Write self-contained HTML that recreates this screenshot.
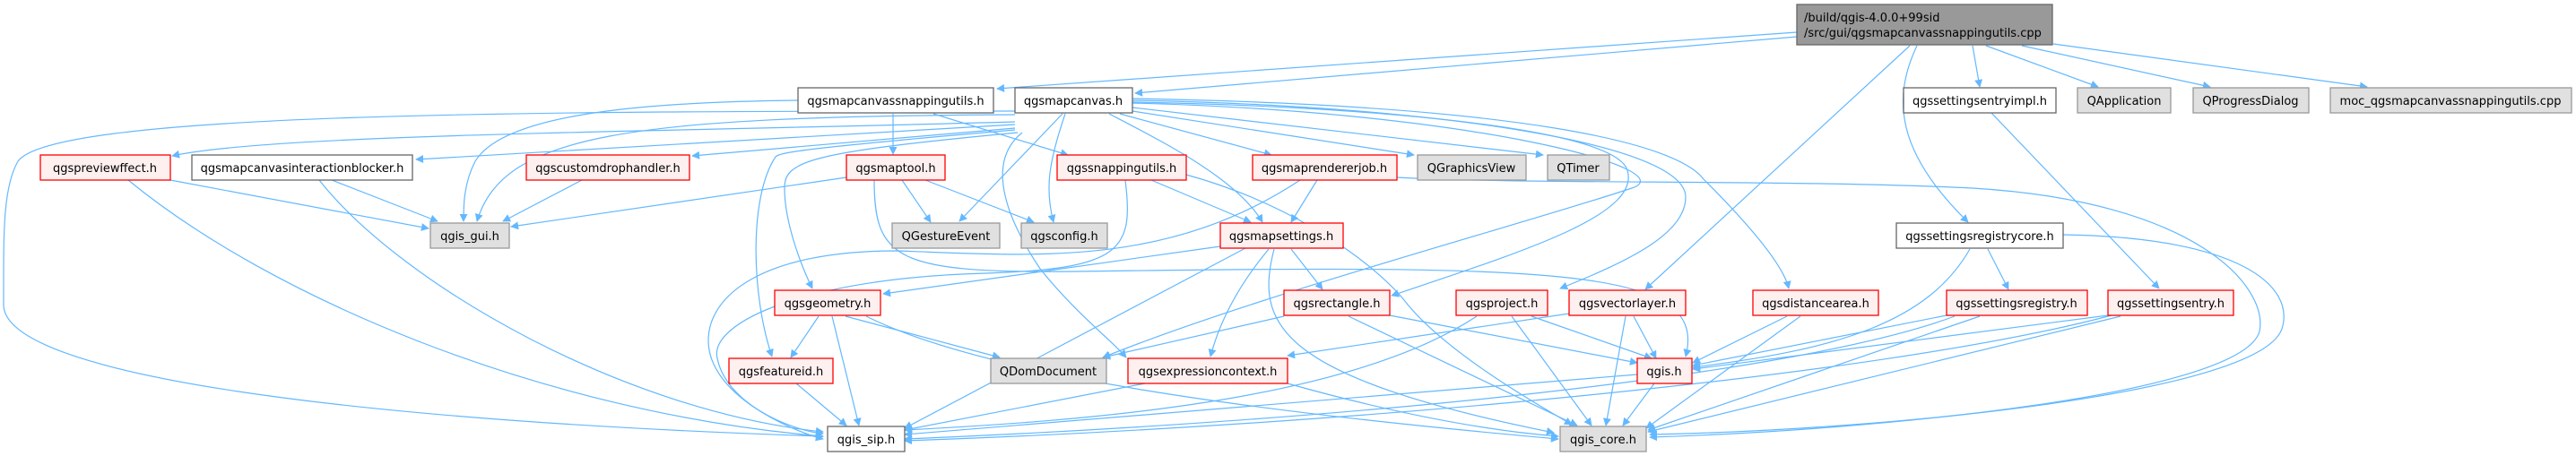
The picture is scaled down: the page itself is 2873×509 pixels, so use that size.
<!DOCTYPE html>
<html><head><meta charset="utf-8"><style>
html,body{margin:0;padding:0;background:#fff;}
svg{display:block;}
text{font-family:"DejaVu Sans","Liberation Sans",sans-serif;font-size:13px;fill:#000;}
.e{fill:none;stroke:#63b8ff;stroke-width:1.2;marker-end:url(#a);}
.r{fill:#fff0f0;stroke:#ff0000;stroke-width:1.3;}
.g{fill:#e0e0e0;stroke:#999;stroke-width:1.3;}
.w{fill:#fff;stroke:#666;stroke-width:1.3;}
.root{fill:#999;stroke:#666;stroke-width:1.3;}
</style></head><body>
<svg width="2873" height="509" viewBox="0 0 2873 509" xmlns="http://www.w3.org/2000/svg">
<defs><marker id="a" viewBox="0 0 10 10" refX="9" refY="5" markerWidth="9" markerHeight="9" markerUnits="userSpaceOnUse" orient="auto"><path d="M0,0 L10,5 L0,10 z" fill="#63b8ff"/></marker></defs>
<g>
<path class="e" d="M2004,36 L1112,99"/>
<path class="e" d="M2004,41 L1266,104"/>
<path class="e" d="M2200,51 L2208,97"/>
<path class="e" d="M2215,51 L2340,97"/>
<path class="e" d="M2255,51 L2465,97"/>
<path class="e" d="M2290,49 L2640,97"/>
<path class="e" d="M2130,51 L1835,323"/>
<path class="e" d="M2138,51 C2110,110 2115,170 2195,248"/>
<path class="e" d="M890,112 C700,114 560,130 530,180 C517,205 517,230 517,247"/>
<path class="e" d="M996,127 L996,172"/>
<path class="e" d="M1041,127 L1191,173"/>
<path class="e" d="M1132,124 C600,124 60,125 20,180 C3,210 4,260 4,340 C4,420 400,470 918,487"/>
<path class="e" d="M1132,128 C700,130 560,150 532,247"/>
<path class="e" d="M1132,136 C700,148 300,150 192,174"/>
<path class="e" d="M1132,139 L464,178"/>
<path class="e" d="M1132,143 L772,174"/>
<path class="e" d="M1132,145 C900,165 870,170 865,175 C835,220 838,330 861,398"/>
<path class="e" d="M1135,148 C900,170 875,180 875,210 C875,250 895,300 906,322"/>
<path class="e" d="M1185,127 L1070,247"/>
<path class="e" d="M1188,127 C1170,180 1165,210 1175,248"/>
<path class="e" d="M1237,127 C1300,160 1380,200 1408,248"/>
<path class="e" d="M1249,127 L1418,173"/>
<path class="e" d="M1263,124 L1577,173"/>
<path class="e" d="M1263,120 L1721,173"/>
<path class="e" d="M1263,114 C1500,118 1800,140 1815,190 C1830,240 1700,280 1552,330"/>
<path class="e" d="M1263,112 C1600,118 1880,160 1880,220 C1880,260 1820,290 1740,322"/>
<path class="e" d="M1263,110 C1700,118 1870,160 1900,200 C1960,260 1990,300 1995,322"/>
<path class="e" d="M1263,115 C1650,125 1880,190 1820,210 C1700,250 1400,330 1230,399"/>
<path class="e" d="M1140,148 C1100,180 1120,240 1160,300 C1200,350 1240,380 1256,399"/>
<path class="e" d="M944,198 L570,253"/>
<path class="e" d="M1006,201 L1038,248"/>
<path class="e" d="M1032,201 L1153,248"/>
<path class="e" d="M975,201 C975,290 1000,305 1200,303 C1750,295 1905,300 1880,398"/>
<path class="e" d="M190,201 L478,255"/>
<path class="e" d="M143,201 C300,330 600,460 918,487"/>
<path class="e" d="M370,201 L488,247"/>
<path class="e" d="M356,201 C450,320 700,460 918,482"/>
<path class="e" d="M649,201 L561,247"/>
<path class="e" d="M913,353 L882,399"/>
<path class="e" d="M928,353 L958,475"/>
<path class="e" d="M943,353 L1115,399"/>
<path class="e" d="M966,353 C1100,420 1400,460 1738,490"/>
<path class="e" d="M888,428 L944,475"/>
<path class="e" d="M1450,201 C1300,300 1150,285 1000,280 C850,280 790,330 790,380 C790,440 880,480 918,490"/>
<path class="e" d="M1469,201 L1440,248"/>
<path class="e" d="M1558,198 C1700,206 2000,200 2200,210 C2450,225 2530,320 2520,370 C2500,440 2100,480 1840,488"/>
<path class="e" d="M1284,201 L1395,248"/>
<path class="e" d="M1255,201 C1265,280 1250,300 1100,305 C900,310 790,360 800,400 C810,450 880,480 918,484"/>
<path class="e" d="M1323,195 C1450,230 1540,300 1570,340 C1620,400 1730,460 1753,474"/>
<path class="e" d="M1361,275 L985,328"/>
<path class="e" d="M1389,277 L1009,478"/>
<path class="e" d="M1415,278 C1380,320 1360,360 1350,398"/>
<path class="e" d="M1421,278 C1400,360 1420,420 1733,483"/>
<path class="e" d="M1440,278 L1475,323"/>
<path class="e" d="M1432,353 L1230,399"/>
<path class="e" d="M1504,353 L1759,475"/>
<path class="e" d="M1550,352 L1826,405"/>
<path class="e" d="M1647,353 C1500,450 1200,470 1009,480"/>
<path class="e" d="M1686,353 L1775,475"/>
<path class="e" d="M1708,353 L1842,400"/>
<path class="e" d="M1750,350 L1436,397"/>
<path class="e" d="M1813,353 L1791,475"/>
<path class="e" d="M1822,353 L1847,400"/>
<path class="e" d="M1277,428 L1009,480"/>
<path class="e" d="M1436,428 C1550,460 1650,480 1738,487"/>
<path class="e" d="M1826,418 L1009,485"/>
<path class="e" d="M1845,428 L1810,475"/>
<path class="e" d="M1993,353 L1888,405"/>
<path class="e" d="M2008,353 L1836,478"/>
<path class="e" d="M2197,278 C2150,360 2050,390 1888,410"/>
<path class="e" d="M2217,278 L2240,323"/>
<path class="e" d="M2301,262 C2500,265 2560,320 2545,367 C2520,440 2100,480 1840,485"/>
<path class="e" d="M2171,352 L1888,408"/>
<path class="e" d="M2180,353 C2000,420 1500,470 1009,490"/>
<path class="e" d="M2208,353 L1838,480"/>
<path class="e" d="M2351,352 L1888,412"/>
<path class="e" d="M2355,352 C2100,420 1500,475 1009,492"/>
<path class="e" d="M2365,353 L1838,482"/>
<path class="e" d="M2221,126 L2408,322"/>
</g>
<g>
<rect class="root" x="2004" y="5" width="285" height="45"/>
<text x="2012" y="24">/build/qgis-4.0.0+99sid</text>
<text x="2012" y="41">/src/gui/qgsmapcanvassnappingutils.cpp</text>
<rect class="w" x="890" y="98" width="218" height="28"/><text x="999" y="117" text-anchor="middle">qgsmapcanvassnappingutils.h</text>
<rect class="w" x="1132" y="98" width="131" height="28"/><text x="1197" y="117" text-anchor="middle">qgsmapcanvas.h</text>
<rect class="w" x="2123" y="98" width="170" height="28"/><text x="2208" y="117" text-anchor="middle">qgssettingsentryimpl.h</text>
<rect class="g" x="2317" y="98" width="104" height="28"/><text x="2369" y="117" text-anchor="middle">QApplication</text>
<rect class="g" x="2446" y="98" width="129" height="28"/><text x="2510" y="117" text-anchor="middle">QProgressDialog</text>
<rect class="g" x="2599" y="98" width="269" height="28"/><text x="2733" y="117" text-anchor="middle">moc_qgsmapcanvassnappingutils.cpp</text>
<rect class="r" x="45" y="173" width="145" height="28"/><text x="117" y="192" text-anchor="middle">qgspreviewffect.h</text>
<rect class="w" x="214" y="173" width="246" height="28"/><text x="337" y="192" text-anchor="middle">qgsmapcanvasinteractionblocker.h</text>
<rect class="r" x="587" y="173" width="182" height="28"/><text x="678" y="192" text-anchor="middle">qgscustomdrophandler.h</text>
<rect class="r" x="944" y="173" width="110" height="28"/><text x="999" y="192" text-anchor="middle">qgsmaptool.h</text>
<rect class="r" x="1179" y="173" width="144" height="28"/><text x="1251" y="192" text-anchor="middle">qgssnappingutils.h</text>
<rect class="r" x="1397" y="173" width="161" height="28"/><text x="1477" y="192" text-anchor="middle">qgsmaprendererjob.h</text>
<rect class="g" x="1581" y="173" width="121" height="28"/><text x="1641" y="192" text-anchor="middle">QGraphicsView</text>
<rect class="g" x="1726" y="173" width="69" height="28"/><text x="1760" y="192" text-anchor="middle">QTimer</text>
<rect class="g" x="480" y="249" width="88" height="28"/><text x="524" y="268" text-anchor="middle">qgis_gui.h</text>
<rect class="g" x="995" y="249" width="120" height="28"/><text x="1055" y="268" text-anchor="middle">QGestureEvent</text>
<rect class="g" x="1139" y="249" width="96" height="28"/><text x="1187" y="268" text-anchor="middle">qgsconfig.h</text>
<rect class="r" x="1361" y="249" width="137" height="28"/><text x="1429" y="268" text-anchor="middle">qgsmapsettings.h</text>
<rect class="w" x="2115" y="249" width="186" height="28"/><text x="2208" y="268" text-anchor="middle">qgssettingsregistrycore.h</text>
<rect class="r" x="864" y="324" width="118" height="28"/><text x="923" y="343" text-anchor="middle">qgsgeometry.h</text>
<rect class="r" x="1432" y="324" width="118" height="28"/><text x="1491" y="343" text-anchor="middle">qgsrectangle.h</text>
<rect class="r" x="1624" y="324" width="102" height="28"/><text x="1675" y="343" text-anchor="middle">qgsproject.h</text>
<rect class="r" x="1750" y="324" width="130" height="28"/><text x="1815" y="343" text-anchor="middle">qgsvectorlayer.h</text>
<rect class="r" x="1955" y="324" width="140" height="28"/><text x="2025" y="343" text-anchor="middle">qgsdistancearea.h</text>
<rect class="r" x="2171" y="324" width="157" height="28"/><text x="2249" y="343" text-anchor="middle">qgssettingsregistry.h</text>
<rect class="r" x="2351" y="324" width="140" height="28"/><text x="2421" y="343" text-anchor="middle">qgssettingsentry.h</text>
<rect class="r" x="813" y="400" width="116" height="28"/><text x="871" y="419" text-anchor="middle">qgsfeatureid.h</text>
<rect class="g" x="1105" y="400" width="129" height="28"/><text x="1169" y="419" text-anchor="middle">QDomDocument</text>
<rect class="r" x="1258" y="400" width="178" height="28"/><text x="1347" y="419" text-anchor="middle">qgsexpressioncontext.h</text>
<rect class="r" x="1826" y="400" width="61" height="28"/><text x="1856" y="419" text-anchor="middle">qgis.h</text>
<rect class="w" x="923" y="476" width="86" height="28"/><text x="966" y="495" text-anchor="middle">qgis_sip.h</text>
<rect class="g" x="1740" y="476" width="96" height="28"/><text x="1788" y="495" text-anchor="middle">qgis_core.h</text>
</g>
</svg>
</body></html>
